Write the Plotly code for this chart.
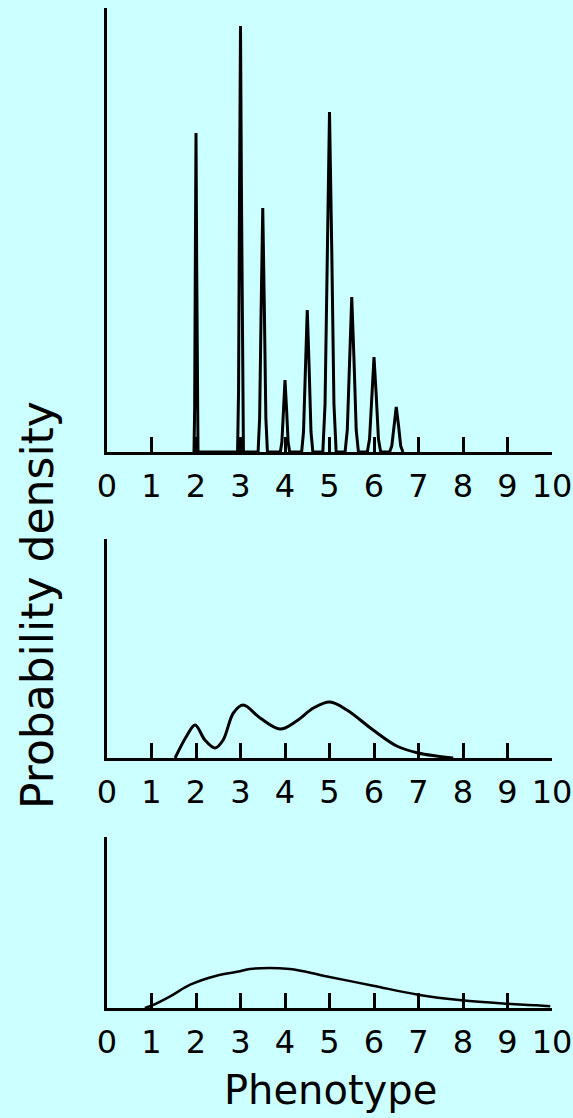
import plotly.graph_objects as go

# ---- data (y in arbitrary density units) ----
ticks = [0, 1, 2, 3, 4, 5, 6, 7, 8, 9, 10]
tick_labels = [str(t) for t in ticks]

# Panel 1: sharp peaks
p1_x = [1.955, 1.97, 1.985, 2.0, 2.015, 2.03, 2.045,
        2.934, 2.956, 2.978, 3.0, 3.022, 3.044, 3.066,
        3.395, 3.43, 3.465, 3.5, 3.535, 3.57, 3.605,
        3.895, 3.93, 3.965, 4.0, 4.035, 4.07, 4.105,
        4.374, 4.416, 4.458, 4.5, 4.542, 4.584, 4.626,
        4.85, 4.9, 4.95, 5.0, 5.05, 5.1, 5.15,
        5.35, 5.4, 5.45, 5.5, 5.55, 5.6, 5.65,
        5.85, 5.9, 5.95, 6.0, 6.05, 6.1, 6.15,
        6.35, 6.4, 6.45, 6.5, 6.55, 6.6, 6.65]
p1_y = [0.0, 0.45, 1.91, 3.19, 1.91, 0.45, 0.0,
        0.0, 0.60, 2.56, 4.26, 2.56, 0.60, 0.0,
        0.0, 0.34, 1.46, 2.44, 1.46, 0.34, 0.0,
        0.0, 0.10, 0.43, 0.72, 0.43, 0.10, 0.0,
        0.0, 0.20, 0.85, 1.42, 0.85, 0.20, 0.0,
        0.0, 0.48, 2.04, 3.40, 2.04, 0.48, 0.0,
        0.0, 0.22, 0.93, 1.55, 0.93, 0.22, 0.0,
        0.0, 0.13, 0.57, 0.95, 0.57, 0.13, 0.0,
        0.0, 0.06, 0.27, 0.45, 0.27, 0.06, 0.0]

# Panel 2: three smooth humps
p2_x = [1.53, 1.79, 1.98, 2.2, 2.43, 2.61, 2.84, 3.06, 3.44, 3.89,
        4.26, 4.64, 5.01, 5.39, 5.98, 6.51, 6.99, 7.4, 7.78]
p2_y = [0.0, 0.22, 0.33, 0.18, 0.10, 0.18, 0.45, 0.53, 0.40, 0.29,
        0.37, 0.50, 0.56, 0.48, 0.28, 0.12, 0.05, 0.02, 0.0]

# Panel 3: one broad hump
p3_x = [0.85, 1.0, 1.42, 1.87, 2.46, 2.99, 3.21, 4.11, 4.86, 5.98,
        6.99, 7.97, 8.98, 9.65, 9.96]
p3_y = [0.0, 0.023, 0.117, 0.233, 0.323, 0.367, 0.39, 0.39, 0.323,
        0.223, 0.133, 0.077, 0.043, 0.027, 0.017]

y_ranges = [4.44, 2.19, 1.71]

# ---- layout geometry ----
W, H = 573, 1118
BG = "#CCFFFF"
FONT = "DejaVu Sans"

x0_px, x1_px = 107, 552
panels_px = [(8, 452), (539, 758), (837, 1008)]  # (top, bottom)

fig = go.Figure()
series = [(p1_x, p1_y, 3, "linear"), (p2_x, p2_y, 3, "spline"), (p3_x, p3_y, 2.5, "spline")]
for i, (xs, ys, lw, shape) in enumerate(series):
    ax = "" if i == 0 else str(i + 1)
    fig.add_trace(go.Scatter(x=xs, y=ys, mode="lines",
                             line=dict(color="black", width=lw, shape=shape),
                             xaxis="x" + ax, yaxis="y" + ax,
                             showlegend=False, hoverinfo="skip"))

layout = dict(width=W, height=H, paper_bgcolor=BG, plot_bgcolor=BG,
              margin=dict(l=0, r=0, t=0, b=0, pad=0), showlegend=False,
              template="none")

for i, (top, bot) in enumerate(panels_px):
    ax = "" if i == 0 else str(i + 1)
    layout["xaxis" + ax] = dict(
        domain=[x0_px / W, x1_px / W], range=[0, 10], anchor="y" + ax,
        automargin=False,
        showgrid=False, zeroline=False, showline=True, linecolor="black", linewidth=3,
        ticks="inside", ticklen=15, tickwidth=3, tickcolor="black",
        tickmode="array", tickvals=ticks, ticktext=tick_labels,
        tickfont=dict(family=FONT, size=32, color="black"),
        ticklabelstandoff=4, fixedrange=True)
    layout["yaxis" + ax] = dict(
        domain=[1 - bot / H, 1 - top / H], range=[0, y_ranges[i]], anchor="x" + ax,
        automargin=False,
        showgrid=False, zeroline=False, showline=True, linecolor="black", linewidth=3,
        showticklabels=False, ticks="", fixedrange=True)

fig.update_layout(**layout)

fig.add_annotation(text="Probability density", x=37 / W, y=1 - 605 / H,
                   xref="paper", yref="paper", textangle=-90, showarrow=False,
                   xanchor="center", yanchor="middle",
                   font=dict(family=FONT, size=44, color="black"))
fig.add_annotation(text="Phenotype", x=330 / W, y=1 - 1090 / H,
                   xref="paper", yref="paper", showarrow=False,
                   xanchor="center", yanchor="middle",
                   font=dict(family=FONT, size=40, color="black"))

fig.write_html("out.html",
               config={"displayModeBar": False},
               post_script="document.body.style.margin='0';"
                           "document.body.style.overflow='hidden';"
                           "document.body.style.background='" + BG + "';")
